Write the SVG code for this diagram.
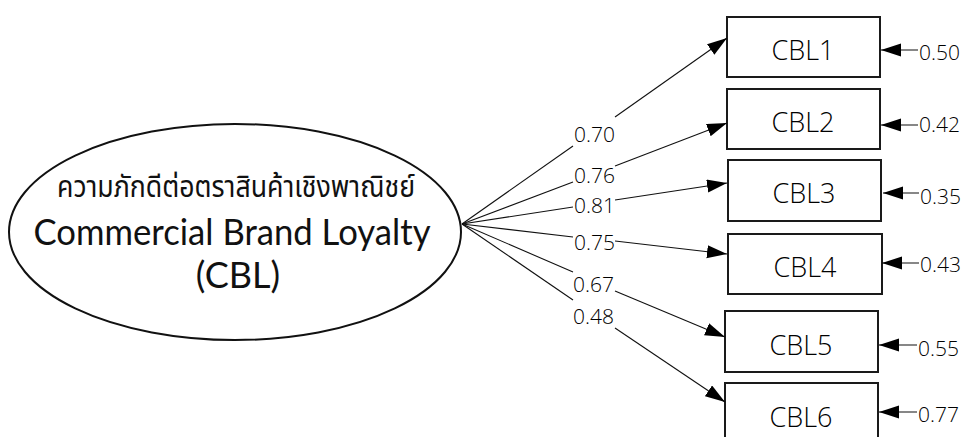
<svg xmlns="http://www.w3.org/2000/svg" width="963" height="437" viewBox="0 0 963 437">
  <style>
    .box { fill: #fff; stroke: #1a1a1a; stroke-width: 2; }
    .ind { font-family: "Open Sans", "DejaVu Sans", sans-serif; font-weight: 300; font-size: 27px; fill: #000; text-anchor: middle; }
    .num { font-family: "Open Sans", "DejaVu Sans", sans-serif; font-weight: 300; font-size: 21px; fill: #000; }
    .path { stroke: #111; stroke-width: 1.1; fill: none; }
    .lat { font-family: "Lato", "Open Sans", sans-serif; fill: #111; text-anchor: middle; }
    .thai { font-family: "Noto Sans Thai", "Noto Sans", "Open Sans", sans-serif; fill: #111; text-anchor: middle; }
  </style>
  <defs>
    <marker id="arrow" markerUnits="userSpaceOnUse" markerWidth="22" markerHeight="14" refX="20" refY="6.5" orient="auto">
      <path d="M0,0 L20,6.5 L0,13 Z" fill="#000"/>
    </marker>
  </defs>
  <rect width="963" height="437" fill="#fff"/>

  <!-- latent construct -->
  <g id="CBL">
    <ellipse cx="235" cy="232" rx="226" ry="108" fill="#fff" stroke="#111" stroke-width="2"/>
    <text class="thai" x="236" y="197" font-size="31" textLength="358" lengthAdjust="spacingAndGlyphs">ความภักดีต่อตราสินค้าเชิงพาณิชย์</text>
    <text class="lat" x="232" y="245" font-size="36" textLength="397" lengthAdjust="spacingAndGlyphs">Commercial Brand Loyalty</text>
    <text class="lat" x="238" y="288" font-size="36">(CBL)</text>
  </g>

  <!-- observed indicators -->
  <g id="CBL1"><rect class="box" x="727" y="17" width="153" height="60"/><text class="ind" x="803" y="60">CBL1</text></g>
  <g id="CBL2"><rect class="box" x="727" y="89" width="153" height="60"/><text class="ind" x="803" y="132">CBL2</text></g>
  <g id="CBL3"><rect class="box" x="728" y="160" width="153" height="61"/><text class="ind" x="804" y="203">CBL3</text></g>
  <g id="CBL4"><rect class="box" x="728" y="234" width="154" height="60"/><text class="ind" x="805" y="277">CBL4</text></g>
  <g id="CBL5"><rect class="box" x="725" y="311" width="153" height="61"/><text class="ind" x="801" y="355">CBL5</text></g>
  <g id="CBL6"><rect class="box" x="725" y="383" width="153" height="62"/><text class="ind" x="801" y="427">CBL6</text></g>

  <!-- connectors: factor loadings and error terms -->
  <g id="connectors">
    <path class="path" d="M462,224 L573,146"/><path class="path" d="M615,117 L727,38" marker-end="url(#arrow)"/>
    <path class="path" d="M462,224 L573,182"/><path class="path" d="M615,166 L727,123" marker-end="url(#arrow)"/>
    <path class="path" d="M462,224 L573,207"/><path class="path" d="M615,200 L727,183" marker-end="url(#arrow)"/>
    <path class="path" d="M462,224 L573,237"/><path class="path" d="M615,241 L727,254" marker-end="url(#arrow)"/>
    <path class="path" d="M462,224 L573,272"/><path class="path" d="M615,291 L725,337" marker-end="url(#arrow)"/>
    <path class="path" d="M462,224 L573,300"/><path class="path" d="M615,328 L725,402" marker-end="url(#arrow)"/>

    <path class="path" d="M918,50 L881,50" marker-end="url(#arrow)"/>
    <path class="path" d="M918,125 L881,125" marker-end="url(#arrow)"/>
    <path class="path" d="M919,193 L883,193" marker-end="url(#arrow)"/>
    <path class="path" d="M919,263 L882,263" marker-end="url(#arrow)"/>
    <path class="path" d="M917,345 L879,345" marker-end="url(#arrow)" stroke="#666"/>
    <path class="path" d="M917,412 L879,412" marker-end="url(#arrow)"/>

    <text class="num" x="574" y="142">0.70</text>
    <text class="num" x="574" y="183">0.76</text>
    <text class="num" x="574" y="213">0.81</text>
    <text class="num" x="574" y="250">0.75</text>
    <text class="num" x="573" y="292">0.67</text>
    <text class="num" x="573" y="324">0.48</text>

    <text class="num" x="919" y="60">0.50</text>
    <text class="num" x="919" y="132">0.42</text>
    <text class="num" x="920" y="204">0.35</text>
    <text class="num" x="920" y="272">0.43</text>
    <text class="num" x="918" y="356">0.55</text>
    <text class="num" x="918" y="422">0.77</text>
  </g>
</svg>
